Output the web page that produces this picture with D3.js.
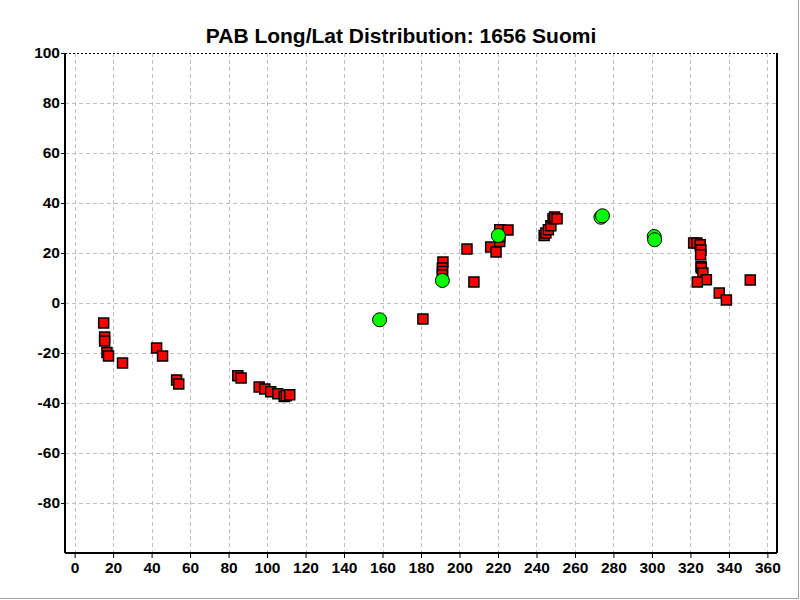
<!DOCTYPE html>
<html>
<head>
<meta charset="utf-8">
<script src="https://cdn.jsdelivr.net/npm/d3@7"></script>
<style>
  html, body { margin: 0; padding: 0; background: #fff; }
  svg { display: block; }
  text { font-family: "Liberation Sans", Arial, sans-serif; font-weight: bold; fill: #000; }
</style>
</head>
<body>
<svg id="chart" width="800" height="600"></svg>
<script>
const title = "PAB Long/Lat Distribution: 1656 Suomi";
const xTicks = [0,20,40,60,80,100,120,140,160,180,200,220,240,260,280,300,320,340,360];
const yTicks = [-80,-60,-40,-20,0,20,40,60,80,100];

const redLon = [15.1,15.6,15.6,16.8,17.6,24.9,42.6,45.7,53.0,54.1,
  84.8,86.5,95.9,98.8,101.9,105.6,108.9,110.0,111.8,
  181.0,191.4,191.1,191.2,191.1,207.5,203.9,216.2,219.0,220.9,220.9,220.9,225.2,
  244.0,244.9,246.2,247.5,248.6,249.4,250.7,
  321.7,323.4,325.1,325.5,325.3,325.5,325.7,326.5,328.3,323.6,335.0,338.7,351.1];
const redLat = [-8.0,-13.6,-15.2,-19.8,-21.2,-24.0,-18.0,-21.2,-30.8,-32.4,
  -29.1,-30.0,-33.6,-34.4,-35.5,-36.3,-37.4,-37.1,-36.7,
  -6.4,16.4,14.0,12.6,11.3,8.4,21.6,22.4,20.4,29.3,24.6,26.5,29.2,
  27.0,28.0,29.3,30.9,33.7,34.4,33.7,
  24.0,24.0,23.3,21.2,19.3,14.6,14.0,12.0,9.3,8.4,4.0,1.2,9.2];

const greenLon = [158.5,191.1,220.2,273.5,274.3,301.2,301.4];
const greenLat = [-6.7,9.0,27.0,34.3,34.9,26.6,25.3];

const svg = d3.select("#chart");
const pLeft = 65, pRight = 777, pTop = 53, pBottom = 553;
const x = d3.scaleLinear().domain([-5, 365]).range([pLeft, pRight]);
const y = d3.scaleLinear().domain([-100, 100]).range([pBottom, pTop]);

// outer frame of picture
svg.append("rect").attr("x", -1).attr("y", -1).attr("width", 799.5).attr("height", 599.5)
  .attr("fill", "none").attr("stroke", "#a0a0a0").attr("stroke-width", 1);

// grid
const grid = svg.append("g");
xTicks.forEach(v => {
  grid.append("line").attr("x1", Math.round(x(v)) + 0.5).attr("x2", Math.round(x(v)) + 0.5)
    .attr("y1", pTop).attr("y2", pBottom)
    .attr("stroke", "#c0c0c0").attr("stroke-dasharray", "4,3").attr("stroke-width", 1);
});
yTicks.filter(v => v !== 100).forEach(v => {
  grid.append("line").attr("x1", pLeft).attr("x2", pRight)
    .attr("y1", Math.round(y(v)) + 0.5).attr("y2", Math.round(y(v)) + 0.5)
    .attr("stroke", "#c0c0c0").attr("stroke-dasharray", "4,3").attr("stroke-width", 1);
});
// top frame (dotted black)
svg.append("line").attr("x1", pLeft).attr("x2", pRight).attr("y1", pTop + 0.5).attr("y2", pTop + 0.5)
  .attr("stroke", "#000").attr("stroke-dasharray", "2,2").attr("stroke-width", 1);
// right frame
svg.append("line").attr("x1", pRight).attr("x2", pRight).attr("y1", pTop).attr("y2", pBottom)
  .attr("stroke", "#000").attr("stroke-width", 2);

// axes
const fmt = d => String(d);
const xAxis = d3.axisBottom(x).tickValues(xTicks).tickSize(5).tickPadding(4).tickFormat(fmt);
const yAxis = d3.axisLeft(y).tickValues(yTicks).tickSize(4).tickPadding(1).tickFormat(fmt);
const gx = svg.append("g").attr("transform", `translate(0,${pBottom})`).call(xAxis);
const gy = svg.append("g").attr("transform", `translate(${pLeft},0)`).call(yAxis);
[gx, gy].forEach(g => {
  g.select(".domain").attr("stroke", "#000").attr("stroke-width", 2);
  g.selectAll(".tick line").attr("stroke", "#000").attr("stroke-width", 1);
  g.selectAll(".tick text").style("font-size", "15.5px").style("font-family", "'Liberation Sans', Arial, sans-serif")
    .style("font-weight", "bold").attr("fill", "#000");
});
gx.select(".domain").attr("d", `M${pLeft},0H${pRight}`);
gy.select(".domain").attr("d", `M0,${pTop}V${pBottom}`);

// data
const reds = redLon.map((v, i) => ({lon: v, lat: redLat[i]}));
const greens = greenLon.map((v, i) => ({lon: v, lat: greenLat[i]}));
const s = 10;
svg.append("g").selectAll("rect").data(reds).join("rect")
  .attr("x", d => x(d.lon) - s / 2).attr("y", d => y(d.lat) - s / 2)
  .attr("width", s).attr("height", s)
  .attr("fill", "#ff0000").attr("stroke", "#000").attr("stroke-width", 1.5);
svg.append("g").selectAll("circle").data(greens).join("circle")
  .attr("cx", d => x(d.lon)).attr("cy", d => y(d.lat)).attr("r", 7)
  .attr("fill", "#00ff00").attr("stroke", "#000").attr("stroke-width", 1);

// title
svg.append("text").attr("x", 401).attr("y", 43).attr("text-anchor", "middle")
  .style("font-size", "21px").text(title);
</script>
</body>
</html>
